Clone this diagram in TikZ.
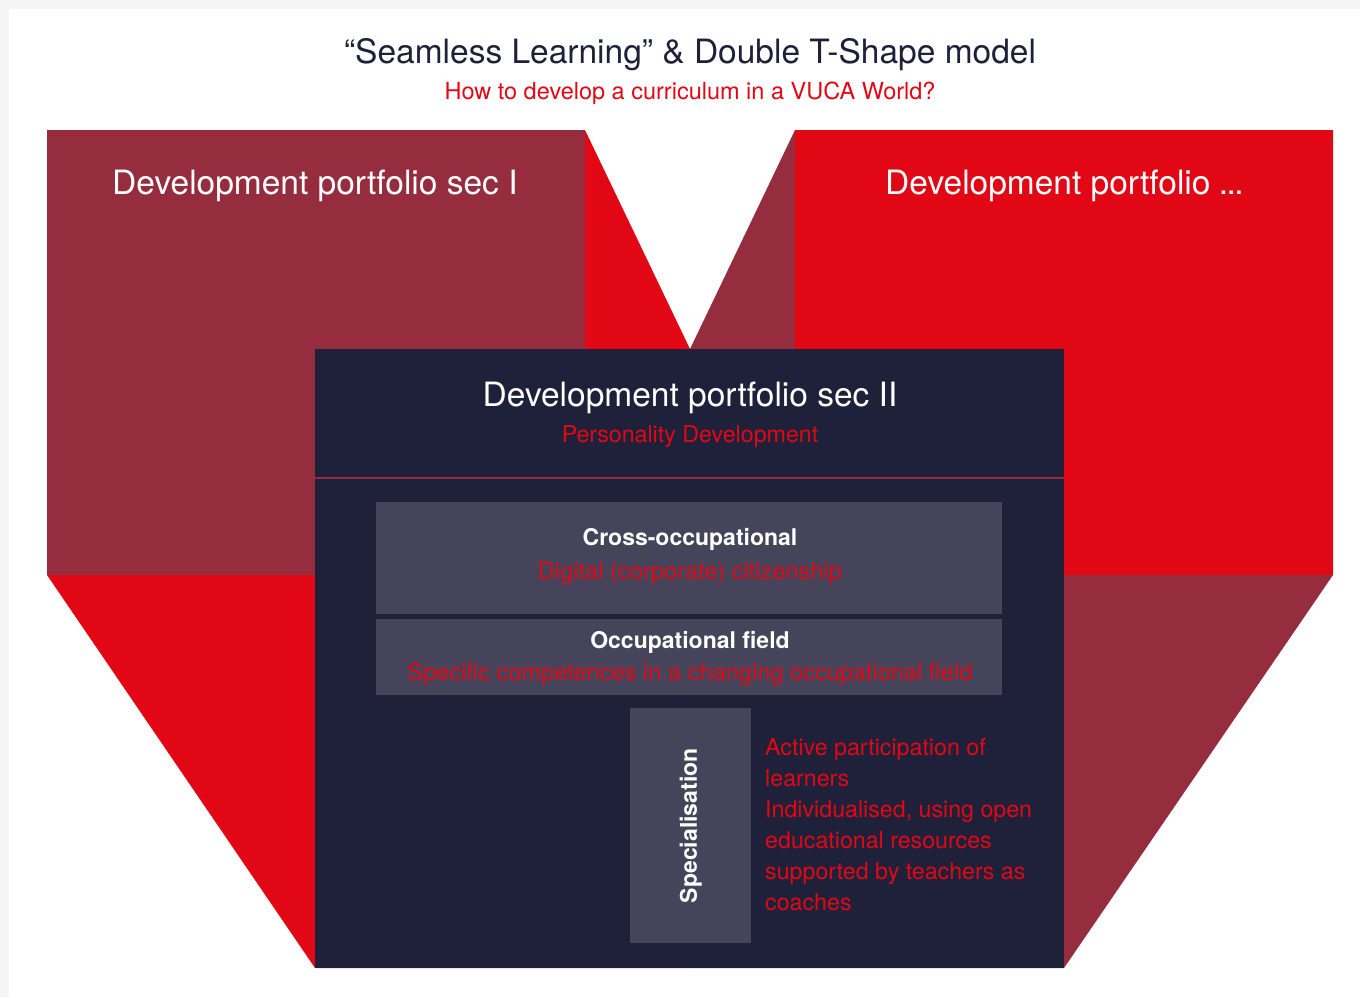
\documentclass[tikz,border=0pt]{standalone}
\usepackage{fontspec}
\setmainfont{TeX Gyre Heros}
\usepackage{tikz}
\usetikzlibrary{positioning}
\definecolor{navy}{HTML}{1E2139}
\definecolor{wine}{HTML}{962D3E}
\definecolor{signal}{HTML}{E20714}
\definecolor{slate}{HTML}{45445A}
\definecolor{rim}{HTML}{F5F5F5}
\tikzset{
  head/.style={text=white, inner sep=0pt, font=\fontsize{33.5}{40}\selectfont},
  sub/.style={text=signal, inner sep=0pt, font=\fontsize{23.2}{31}\selectfont},
  boxhead/.style={text=white, inner sep=0pt, font=\fontsize{23}{28}\selectfont\bfseries},
  greybox/.style={fill=slate, inner sep=0pt, anchor=north west},
}

\begin{document}
\begin{tikzpicture}[x=1pt, y=-1pt]
\useasboundingbox (0,0) rectangle (1360,997);
\fill[rim] (0,0) rectangle (1360,997);
\fill[white] (9,9) rectangle (1360,997);
% left T
\fill[signal] (47,130) -- (585,130) -- (690,349) -- (690,968) -- (315,968) -- (47,575) -- cycle;
\fill[wine] (47,130) rectangle (585,575);
% right T
\fill[wine] (795,130) -- (1333,130) -- (1333,575) -- (1064,968) -- (690,968) -- (690,349) -- cycle;
\fill[signal] (795,130) rectangle (1333,575);
% heading
\node[anchor=base, inner sep=0pt, text=navy, font=\fontsize{33.5}{40}\selectfont] (title) at (690,63) {“Seamless Learning” \& Double T-Shape model};
\node[sub, anchor=base, font=\fontsize{23.5}{31}\selectfont] (question) at (690,99) {How to develop a curriculum in a VUCA World?};
\node[head, anchor=base west] (secI) at (112,194) {Development portfolio sec I};
\node[head, anchor=base west] (secN) at (885,194) {Development portfolio\kern-1pt\ .\kern-1.5pt.\kern-1.5pt.};
% middle T
\node[fill=navy, inner sep=0pt, anchor=north west, minimum width=749pt, minimum height=619pt] (secIIbox) at (315,349) {};
\draw[wine, line width=2.5pt] ([yshift=-129pt]secIIbox.north west) -- ([yshift=-129pt]secIIbox.north east);
\node[head, anchor=base] (secII) at (690,406) {Development portfolio sec II};
\node[sub, anchor=base] (personality) at (690,442) {Personality Development};
\node[greybox, minimum width=626pt, minimum height=112pt] (crossbox) at (376,502) {};
\node[greybox, minimum width=626pt, minimum height=76pt] (fieldbox) at (376,619) {};
\node[greybox, minimum width=121pt, minimum height=235pt] (specbox) at (630,708) {};
\node[boxhead, anchor=base] (cross) at (690,545) {Cross-occupational};
\node[sub, anchor=base, font=\fontsize{23.6}{31}\selectfont] (citizen) at (690,579) {Digital (corporate) citizenship};
\node[boxhead, anchor=base] (field) at (690,648) {Occupational field};
\node[sub, anchor=base, font=\fontsize{23.6}{31}\selectfont] (competence) at (690,680) {Specific competences in a changing occupational field};
\node[boxhead, rotate=90] (special) at (specbox.center) {Specialisation};
\node[sub, anchor=north west, align=left] (learners) at (765,738) {Active participation of\\learners\\Individualised, using open\\educational resources\\supported by teachers as\\coaches};
\end{tikzpicture}
\end{document}
